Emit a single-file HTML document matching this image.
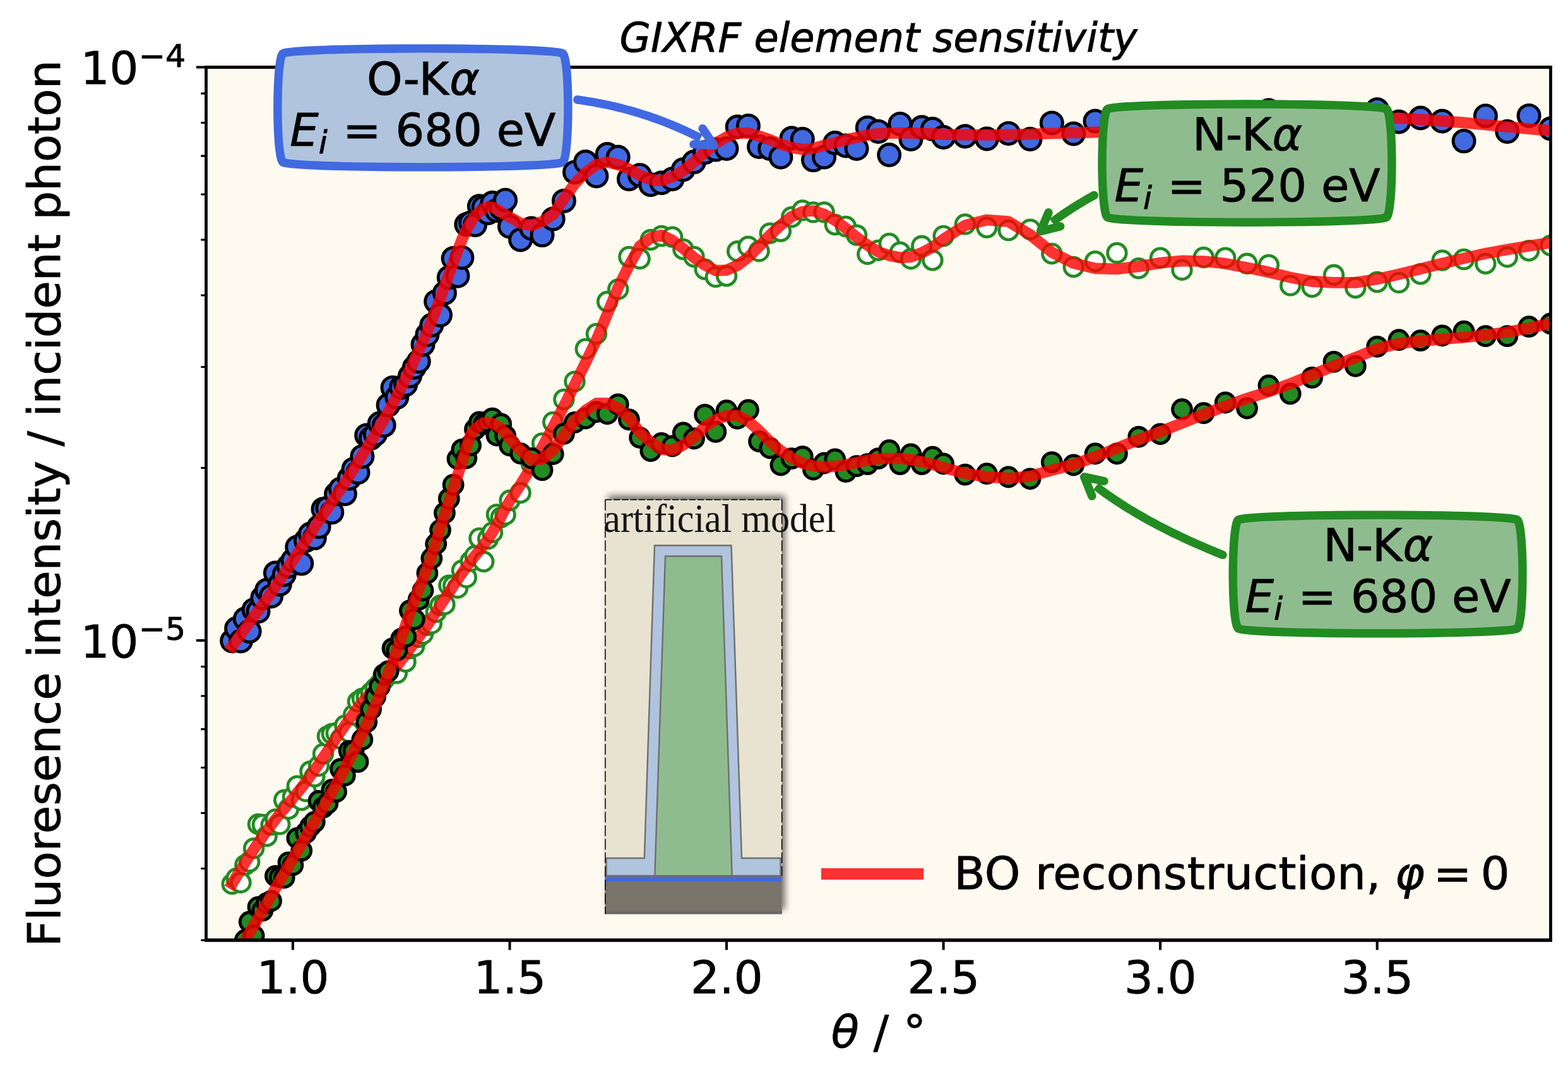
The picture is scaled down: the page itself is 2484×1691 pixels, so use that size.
<!DOCTYPE html>
<html lang="en"><head><meta charset="utf-8"><title>GIXRF element sensitivity</title>
<style>html,body{margin:0;padding:0;background:#fff;}body{width:2484px;height:1691px;overflow:hidden;}svg{display:block;}text{font-family:"DejaVu Sans","Liberation Sans",sans-serif;fill:#000;stroke:#000;stroke-width:0.9px;}.it{font-style:italic;}.serif{font-family:"Liberation Serif","DejaVu Serif",serif;stroke:none;}</style></head><body>
<svg xmlns="http://www.w3.org/2000/svg" width="2484" height="1691" viewBox="0 0 2484 1691">
<defs>
<clipPath id="axclip"><rect x="326.5" y="106.5" width="2130.0" height="1383.5"/></clipPath>
<filter id="shadow" x="-20%" y="-10%" width="150%" height="120%"><feGaussianBlur in="SourceAlpha" stdDeviation="5.5"/><feOffset dx="5" dy="-7" result="b"/><feComponentTransfer><feFuncA type="linear" slope="0.55"/></feComponentTransfer></filter>
<circle id="mA" r="17.05" fill="#4169e1" stroke="#000" stroke-width="4.9"/>
<circle id="mC" r="14.9" fill="#228b22" stroke="#000" stroke-width="5.0"/>
<circle id="mB" r="14.8" fill="#fff" stroke="#228b22" stroke-width="4.8"/>
</defs>
<rect x="0" y="0" width="2484" height="1691" fill="#fff"/>
<rect x="326.5" y="106.5" width="2130.0" height="1383.5" fill="#fffaf0"/>
<path d="M324.1,106.5 H2458.9" stroke="#000" stroke-width="4.8" fill="none"/>
<path d="M447.90,85.00 L447.90,85.00 L447.90,85.00 L447.91,84.99 L447.92,84.98 L447.96,84.94 L448.03,84.88 L448.16,84.79 L448.41,84.65 L448.83,84.45 L449.57,84.18 L450.81,83.83 L452.81,83.40 L455.91,82.89 L460.57,82.31 L467.26,81.65 L476.54,80.95 L488.89,80.22 L504.75,79.49 L524.37,78.80 L547.76,78.17 L574.68,77.64 L604.58,77.24 L636.65,76.99 L669.85,76.90 L703.05,76.99 L735.12,77.24 L765.02,77.64 L791.94,78.17 L815.33,78.80 L834.95,79.49 L850.81,80.22 L863.16,80.95 L872.44,81.65 L879.13,82.31 L883.79,82.89 L886.89,83.40 L888.89,83.83 L890.13,84.18 L890.87,84.45 L891.29,84.65 L891.54,84.79 L891.67,84.88 L891.74,84.94 L891.78,84.98 L891.79,84.99 L891.80,85.00 L891.80,85.00 L891.80,85.00 L891.80,85.00 L891.80,85.00 L891.81,85.01 L891.82,85.02 L891.86,85.06 L891.92,85.12 L892.01,85.23 L892.15,85.41 L892.35,85.69 L892.62,86.13 L892.97,86.79 L893.40,87.78 L893.91,89.21 L894.49,91.25 L895.15,94.07 L895.85,97.84 L896.58,102.74 L897.31,108.91 L898.00,116.43 L898.63,125.31 L899.16,135.43 L899.56,146.61 L899.81,158.55 L899.90,170.90 L899.81,183.25 L899.56,195.19 L899.16,206.37 L898.63,216.49 L898.00,225.37 L897.31,232.89 L896.58,239.06 L895.85,243.96 L895.15,247.73 L894.49,250.55 L893.91,252.59 L893.40,254.02 L892.97,255.01 L892.62,255.67 L892.35,256.11 L892.15,256.39 L892.01,256.57 L891.92,256.68 L891.86,256.74 L891.82,256.78 L891.81,256.79 L891.80,256.80 L891.80,256.80 L891.80,256.80 L891.80,256.80 L891.80,256.80 L891.79,256.81 L891.78,256.82 L891.74,256.86 L891.67,256.92 L891.54,257.01 L891.29,257.15 L890.87,257.35 L890.13,257.62 L888.89,257.97 L886.89,258.40 L883.79,258.91 L879.13,259.49 L872.44,260.15 L863.16,260.85 L850.81,261.58 L834.95,262.31 L815.33,263.00 L791.94,263.63 L765.02,264.16 L735.12,264.56 L703.05,264.81 L669.85,264.90 L636.65,264.81 L604.58,264.56 L574.68,264.16 L547.76,263.63 L524.37,263.00 L504.75,262.31 L488.89,261.58 L476.54,260.85 L467.26,260.15 L460.57,259.49 L455.91,258.91 L452.81,258.40 L450.81,257.97 L449.57,257.62 L448.83,257.35 L448.41,257.15 L448.16,257.01 L448.03,256.92 L447.96,256.86 L447.92,256.82 L447.91,256.81 L447.90,256.80 L447.90,256.80 L447.90,256.80 L447.90,256.80 L447.90,256.80 L447.89,256.79 L447.88,256.78 L447.84,256.74 L447.78,256.68 L447.69,256.57 L447.55,256.39 L447.35,256.11 L447.08,255.67 L446.73,255.01 L446.30,254.02 L445.79,252.59 L445.21,250.55 L444.55,247.73 L443.85,243.96 L443.12,239.06 L442.39,232.89 L441.70,225.37 L441.07,216.49 L440.54,206.37 L440.14,195.19 L439.89,183.25 L439.80,170.90 L439.89,158.55 L440.14,146.61 L440.54,135.43 L441.07,125.31 L441.70,116.43 L442.39,108.91 L443.12,102.74 L443.85,97.84 L444.55,94.07 L445.21,91.25 L445.79,89.21 L446.30,87.78 L446.73,86.79 L447.08,86.13 L447.35,85.69 L447.55,85.41 L447.69,85.23 L447.78,85.12 L447.84,85.06 L447.88,85.02 L447.89,85.01 L447.90,85.00 L447.90,85.00 Z" fill="#b0c4de" stroke="#4169e1" stroke-width="13.4" stroke-linejoin="round"/>
<text x="670.4" y="150.1" font-size="72.0" text-anchor="middle">O<tspan dx="-1">-</tspan><tspan dx="-1">K</tspan><tspan class="it" dx="1.3">α</tspan></text><text x="459.2" y="230.6" font-size="72.0"><tspan class="it">E</tspan><tspan class="it" font-size="50.4" dy="12">i</tspan><tspan dy="-12" dx="1.6"> = 680 eV</tspan></text>
<g clip-path="url(#axclip)">
<g><use href="#mA" x="367.7" y="1015.7"/><use href="#mA" x="374.6" y="996"/><use href="#mA" x="381.5" y="1016"/><use href="#mA" x="388.3" y="980.8"/><use href="#mA" x="395.2" y="1000.5"/><use href="#mA" x="402.1" y="966.4"/><use href="#mA" x="409" y="969"/><use href="#mA" x="415.8" y="947.4"/><use href="#mA" x="422.7" y="935.3"/><use href="#mA" x="429.6" y="944.9"/><use href="#mA" x="436.4" y="908.1"/><use href="#mA" x="443.3" y="926"/><use href="#mA" x="450.2" y="910.8"/><use href="#mA" x="457" y="897.4"/><use href="#mA" x="463.9" y="888"/><use href="#mA" x="470.8" y="867"/><use href="#mA" x="477.7" y="893.1"/><use href="#mA" x="484.5" y="856.8"/><use href="#mA" x="491.4" y="846.3"/><use href="#mA" x="498.3" y="852.6"/><use href="#mA" x="505.1" y="834.7"/><use href="#mA" x="512" y="806.9"/><use href="#mA" x="518.9" y="805.2"/><use href="#mA" x="525.8" y="811.9"/><use href="#mA" x="532.6" y="782.8"/><use href="#mA" x="539.5" y="774.9"/><use href="#mA" x="546.4" y="782.8"/><use href="#mA" x="553.2" y="758.2"/><use href="#mA" x="560.1" y="743.4"/><use href="#mA" x="567" y="748.7"/><use href="#mA" x="573.9" y="723.4"/><use href="#mA" x="580.7" y="689.9"/><use href="#mA" x="587.6" y="694.4"/><use href="#mA" x="594.5" y="688.2"/><use href="#mA" x="601.3" y="671"/><use href="#mA" x="608.2" y="674.1"/><use href="#mA" x="615.1" y="642"/><use href="#mA" x="622" y="614.4"/><use href="#mA" x="628.8" y="629.6"/><use href="#mA" x="635.7" y="613.9"/><use href="#mA" x="642.6" y="609.4"/><use href="#mA" x="649.4" y="596"/><use href="#mA" x="656.3" y="582.2"/><use href="#mA" x="663.2" y="572.7"/><use href="#mA" x="670" y="546"/><use href="#mA" x="676.9" y="530.4"/><use href="#mA" x="683.8" y="515.2"/><use href="#mA" x="690.7" y="477.9"/><use href="#mA" x="697.5" y="499.4"/><use href="#mA" x="704.4" y="464.4"/><use href="#mA" x="711.3" y="439.8"/><use href="#mA" x="718.1" y="409.5"/><use href="#mA" x="725" y="437.3"/><use href="#mA" x="731.9" y="408.2"/><use href="#mA" x="738.8" y="355.7"/><use href="#mA" x="745.6" y="353"/><use href="#mA" x="752.5" y="356.4"/><use href="#mA" x="759.4" y="326.7"/><use href="#mA" x="766.2" y="328.6"/><use href="#mA" x="773.1" y="337.4"/><use href="#mA" x="780" y="321.6"/><use href="#mA" x="786.9" y="333.6"/><use href="#mA" x="793.7" y="330"/><use href="#mA" x="800.6" y="317.2"/><use href="#mA" x="807.5" y="359"/><use href="#mA" x="824.6" y="380"/><use href="#mA" x="841.8" y="362"/><use href="#mA" x="859" y="372.6"/><use href="#mA" x="876.2" y="347"/><use href="#mA" x="893.4" y="318.4"/><use href="#mA" x="910.5" y="273"/><use href="#mA" x="927.7" y="256.6"/><use href="#mA" x="944.9" y="279"/><use href="#mA" x="962.1" y="244.6"/><use href="#mA" x="979.2" y="249"/><use href="#mA" x="996.4" y="283.7"/><use href="#mA" x="1013.6" y="277.7"/><use href="#mA" x="1030.8" y="292.8"/><use href="#mA" x="1048" y="289.8"/><use href="#mA" x="1065.1" y="283.7"/><use href="#mA" x="1082.3" y="268.7"/><use href="#mA" x="1099.5" y="256.6"/><use href="#mA" x="1116.7" y="241.6"/><use href="#mA" x="1133.8" y="237"/><use href="#mA" x="1151" y="235.5"/><use href="#mA" x="1168.2" y="201"/><use href="#mA" x="1185.4" y="199.4"/><use href="#mA" x="1202.5" y="232.5"/><use href="#mA" x="1219.7" y="235.5"/><use href="#mA" x="1236.9" y="249"/><use href="#mA" x="1254.1" y="219"/><use href="#mA" x="1271.3" y="220.5"/><use href="#mA" x="1288.4" y="253.6"/><use href="#mA" x="1305.6" y="249"/><use href="#mA" x="1322.8" y="226.5"/><use href="#mA" x="1340" y="231"/><use href="#mA" x="1357.1" y="235.5"/><use href="#mA" x="1374.3" y="202.4"/><use href="#mA" x="1391.5" y="208.4"/><use href="#mA" x="1408.7" y="245.5"/><use href="#mA" x="1425.9" y="196.4"/><use href="#mA" x="1443" y="220.5"/><use href="#mA" x="1460.2" y="201.8"/><use href="#mA" x="1477.4" y="204.5"/><use href="#mA" x="1494.6" y="217.5"/><use href="#mA" x="1528.9" y="216"/><use href="#mA" x="1563.3" y="219.9"/><use href="#mA" x="1597.6" y="211.4"/><use href="#mA" x="1632" y="220.5"/><use href="#mA" x="1666.3" y="194.9"/><use href="#mA" x="1700.7" y="212"/><use href="#mA" x="1735" y="192"/><use href="#mA" x="1769.4" y="205"/><use href="#mA" x="1803.8" y="210"/><use href="#mA" x="1838.1" y="200"/><use href="#mA" x="1872.5" y="205"/><use href="#mA" x="1906.8" y="200"/><use href="#mA" x="1941.2" y="205"/><use href="#mA" x="1975.5" y="200"/><use href="#mA" x="2009.9" y="175"/><use href="#mA" x="2044.2" y="200"/><use href="#mA" x="2078.6" y="200"/><use href="#mA" x="2113" y="200"/><use href="#mA" x="2147.3" y="200"/><use href="#mA" x="2181.7" y="173.7"/><use href="#mA" x="2216" y="193"/><use href="#mA" x="2250.4" y="187"/><use href="#mA" x="2284.7" y="192"/><use href="#mA" x="2319.1" y="223.6"/><use href="#mA" x="2353.4" y="183.7"/><use href="#mA" x="2387.8" y="208.4"/><use href="#mA" x="2422.1" y="183.4"/><use href="#mA" x="2456.5" y="204"/></g>
<path d="M367.7,1024.1 L374.6,1014.7 L381.5,1005.3 L388.3,995.9 L395.2,986.5 L402.1,977.1 L409,967.9 L415.8,958.6 L422.7,949.3 L429.6,939.6 L436.4,929.5 L443.3,919.1 L450.2,908.7 L457,898.3 L463.9,888 L470.8,877.7 L477.7,867.3 L484.5,856.8 L491.4,846.3 L498.3,835.8 L505.1,825.5 L512,815.3 L518.9,805.2 L525.8,795.2 L532.6,785 L539.5,774.9 L546.4,764.6 L553.2,754.1 L560.1,743.4 L567,732.5 L573.9,721.6 L580.7,710.6 L587.6,699.5 L594.5,688.2 L601.3,676.6 L608.2,664.8 L615.1,652.7 L622,640.2 L628.8,627.3 L635.7,613.9 L642.6,600 L649.4,585.7 L656.3,571 L663.2,556 L670,540.6 L676.9,524.7 L683.8,508.2 L690.7,491.2 L697.5,472.9 L704.4,453.6 L711.3,434.3 L718.1,415.7 L725,396.9 L731.9,379.4 L738.8,364.9 L745.6,352 L752.5,342.2 L759.4,335.7 L766.2,330.4 L773.1,327.5 L780,328.3 L786.9,331.7 L793.7,336.1 L800.6,340.3 L807.5,344 L824.6,353.9 L841.8,357.3 L859,351.2 L876.2,339.6 L893.4,314.8 L910.5,291.1 L927.7,273.3 L944.9,260.8 L962.1,256.8 L979.2,261 L996.4,267.8 L1013.6,277.9 L1030.8,284.3 L1048,286.4 L1065.1,280.2 L1082.3,270.5 L1099.5,256.6 L1116.7,241.4 L1133.8,227 L1151,217.1 L1168.2,211 L1185.4,210.8 L1202.5,215.7 L1219.7,221.4 L1236.9,228.6 L1254.1,233.7 L1271.3,236.8 L1288.4,235.3 L1305.6,230.4 L1322.8,226 L1340,221.6 L1357.1,217.8 L1374.3,214.1 L1391.5,211.7 L1408.7,211.1 L1425.9,210.9 L1443,210.8 L1460.2,211.2 L1477.4,212 L1494.6,212.8 L1528.9,213.6 L1563.3,213.9 L1597.6,213.5 L1632,212.7 L1666.3,211.4 L1700.7,210.4 L1735,209.5 L1769.4,207.7 L1803.8,205.8 L1838.1,203.8 L1872.5,201.7 L1906.8,199.6 L1941.2,197.5 L1975.5,195.4 L2009.9,193.4 L2044.2,191.4 L2078.6,189.7 L2113,188.7 L2147.3,188 L2181.7,187.4 L2216,187.4 L2250.4,189.3 L2284.7,191.7 L2319.1,194.3 L2353.4,197.6 L2387.8,201 L2422.1,204.1 L2456.5,207" fill="none" stroke="#ff0000" stroke-opacity="0.8" stroke-width="17.8" stroke-linecap="square" stroke-linejoin="round"/>
</g>
<path d="M1754.10,173.10 L1754.10,173.10 L1754.10,173.10 L1754.11,173.09 L1754.12,173.08 L1754.16,173.04 L1754.23,172.98 L1754.36,172.89 L1754.61,172.75 L1755.03,172.55 L1755.77,172.28 L1757.00,171.93 L1759.00,171.50 L1762.10,170.99 L1766.74,170.41 L1773.42,169.75 L1782.67,169.05 L1794.99,168.32 L1810.81,167.59 L1830.37,166.90 L1853.70,166.27 L1880.55,165.74 L1910.37,165.34 L1942.34,165.09 L1975.45,165.00 L2008.56,165.09 L2040.53,165.34 L2070.35,165.74 L2097.20,166.27 L2120.53,166.90 L2140.09,167.59 L2155.91,168.32 L2168.23,169.05 L2177.48,169.75 L2184.16,170.41 L2188.80,170.99 L2191.90,171.50 L2193.90,171.93 L2195.13,172.28 L2195.87,172.55 L2196.29,172.75 L2196.54,172.89 L2196.67,172.98 L2196.74,173.04 L2196.78,173.08 L2196.79,173.09 L2196.80,173.10 L2196.80,173.10 L2196.80,173.10 L2196.80,173.10 L2196.80,173.10 L2196.81,173.11 L2196.82,173.12 L2196.86,173.16 L2196.92,173.22 L2197.01,173.33 L2197.15,173.51 L2197.35,173.79 L2197.62,174.22 L2197.97,174.89 L2198.40,175.87 L2198.91,177.30 L2199.49,179.33 L2200.15,182.14 L2200.85,185.89 L2201.58,190.77 L2202.31,196.92 L2203.00,204.40 L2203.63,213.23 L2204.16,223.31 L2204.56,234.43 L2204.81,246.32 L2204.90,258.60 L2204.81,270.88 L2204.56,282.77 L2204.16,293.89 L2203.63,303.97 L2203.00,312.80 L2202.31,320.28 L2201.58,326.43 L2200.85,331.31 L2200.15,335.06 L2199.49,337.87 L2198.91,339.90 L2198.40,341.33 L2197.97,342.31 L2197.62,342.98 L2197.35,343.41 L2197.15,343.69 L2197.01,343.87 L2196.92,343.98 L2196.86,344.04 L2196.82,344.08 L2196.81,344.09 L2196.80,344.10 L2196.80,344.10 L2196.80,344.10 L2196.80,344.10 L2196.80,344.10 L2196.79,344.11 L2196.78,344.12 L2196.74,344.16 L2196.67,344.22 L2196.54,344.31 L2196.29,344.45 L2195.87,344.65 L2195.13,344.92 L2193.90,345.27 L2191.90,345.70 L2188.80,346.21 L2184.16,346.79 L2177.48,347.45 L2168.23,348.15 L2155.91,348.88 L2140.09,349.61 L2120.53,350.30 L2097.20,350.93 L2070.35,351.46 L2040.53,351.86 L2008.56,352.11 L1975.45,352.20 L1942.34,352.11 L1910.37,351.86 L1880.55,351.46 L1853.70,350.93 L1830.37,350.30 L1810.81,349.61 L1794.99,348.88 L1782.67,348.15 L1773.42,347.45 L1766.74,346.79 L1762.10,346.21 L1759.00,345.70 L1757.00,345.27 L1755.77,344.92 L1755.03,344.65 L1754.61,344.45 L1754.36,344.31 L1754.23,344.22 L1754.16,344.16 L1754.12,344.12 L1754.11,344.11 L1754.10,344.10 L1754.10,344.10 L1754.10,344.10 L1754.10,344.10 L1754.10,344.10 L1754.09,344.09 L1754.08,344.08 L1754.04,344.04 L1753.98,343.98 L1753.89,343.87 L1753.75,343.69 L1753.55,343.41 L1753.28,342.98 L1752.93,342.31 L1752.50,341.33 L1751.99,339.90 L1751.41,337.87 L1750.75,335.06 L1750.05,331.31 L1749.32,326.43 L1748.59,320.28 L1747.90,312.80 L1747.27,303.97 L1746.74,293.89 L1746.34,282.77 L1746.09,270.88 L1746.00,258.60 L1746.09,246.32 L1746.34,234.43 L1746.74,223.31 L1747.27,213.23 L1747.90,204.40 L1748.59,196.92 L1749.32,190.77 L1750.05,185.89 L1750.75,182.14 L1751.41,179.33 L1751.99,177.30 L1752.50,175.87 L1752.93,174.89 L1753.28,174.22 L1753.55,173.79 L1753.75,173.51 L1753.89,173.33 L1753.98,173.22 L1754.04,173.16 L1754.08,173.12 L1754.09,173.11 L1754.10,173.10 L1754.10,173.10 Z" fill="#8fbc8f" stroke="#228b22" stroke-width="13.4" stroke-linejoin="round"/>
<text x="1976" y="238.2" font-size="72.0" text-anchor="middle">N<tspan dx="-1">-</tspan><tspan dx="-1">K</tspan><tspan class="it" dx="1.3">α</tspan></text><text x="1765.4" y="318.7" font-size="72.0"><tspan class="it">E</tspan><tspan class="it" font-size="50.4" dy="12">i</tspan><tspan dy="-12" dx="1.6"> = 520 eV</tspan></text>
<g clip-path="url(#axclip)">
<g><use href="#mB" x="367.7" y="1400.9"/><use href="#mB" x="374.6" y="1392"/><use href="#mB" x="381.5" y="1398.7"/><use href="#mB" x="388.3" y="1370.9"/><use href="#mB" x="395.2" y="1365.8"/><use href="#mB" x="402.1" y="1344.4"/><use href="#mB" x="409" y="1306.2"/><use href="#mB" x="415.8" y="1307"/><use href="#mB" x="422.7" y="1325"/><use href="#mB" x="429.6" y="1307.3"/><use href="#mB" x="436.4" y="1298.5"/><use href="#mB" x="443.3" y="1306.4"/><use href="#mB" x="450.2" y="1268"/><use href="#mB" x="457" y="1282"/><use href="#mB" x="463.9" y="1263"/><use href="#mB" x="470.8" y="1245.7"/><use href="#mB" x="477.7" y="1268"/><use href="#mB" x="484.5" y="1254.2"/><use href="#mB" x="491.4" y="1222.4"/><use href="#mB" x="498.3" y="1230.8"/><use href="#mB" x="505.1" y="1213.8"/><use href="#mB" x="512" y="1194.6"/><use href="#mB" x="518.9" y="1166.7"/><use href="#mB" x="525.8" y="1163"/><use href="#mB" x="532.6" y="1161.7"/><use href="#mB" x="539.5" y="1170.8"/><use href="#mB" x="546.4" y="1149.7"/><use href="#mB" x="553.2" y="1160.7"/><use href="#mB" x="560.1" y="1132.9"/><use href="#mB" x="567" y="1112"/><use href="#mB" x="573.9" y="1107"/><use href="#mB" x="580.7" y="1105.2"/><use href="#mB" x="587.6" y="1097.9"/><use href="#mB" x="594.5" y="1090.8"/><use href="#mB" x="601.3" y="1084"/><use href="#mB" x="608.2" y="1077.1"/><use href="#mB" x="615.1" y="1070"/><use href="#mB" x="622" y="1062.7"/><use href="#mB" x="628.8" y="1066.8"/><use href="#mB" x="635.7" y="1046.5"/><use href="#mB" x="642.6" y="1048.8"/><use href="#mB" x="649.4" y="1027.9"/><use href="#mB" x="656.3" y="1024"/><use href="#mB" x="663.2" y="1009.8"/><use href="#mB" x="670" y="1004.7"/><use href="#mB" x="676.9" y="990.9"/><use href="#mB" x="683.8" y="988.2"/><use href="#mB" x="690.7" y="970"/><use href="#mB" x="697.5" y="959.5"/><use href="#mB" x="704.4" y="957.9"/><use href="#mB" x="711.3" y="927.6"/><use href="#mB" x="718.1" y="928.5"/><use href="#mB" x="725" y="931.7"/><use href="#mB" x="731.9" y="904"/><use href="#mB" x="738.8" y="915.2"/><use href="#mB" x="745.6" y="889.4"/><use href="#mB" x="752.5" y="880.8"/><use href="#mB" x="759.4" y="853"/><use href="#mB" x="766.2" y="890"/><use href="#mB" x="773.1" y="854"/><use href="#mB" x="780" y="843.7"/><use href="#mB" x="786.9" y="815.5"/><use href="#mB" x="793.7" y="820"/><use href="#mB" x="800.6" y="815.7"/><use href="#mB" x="807.5" y="793"/><use href="#mB" x="824.6" y="781"/><use href="#mB" x="841.8" y="735"/><use href="#mB" x="859" y="702.5"/><use href="#mB" x="876.2" y="669"/><use href="#mB" x="893.4" y="633"/><use href="#mB" x="910.5" y="604.6"/><use href="#mB" x="927.7" y="553"/><use href="#mB" x="944.9" y="529"/><use href="#mB" x="962.1" y="478"/><use href="#mB" x="979.2" y="458.4"/><use href="#mB" x="996.4" y="407"/><use href="#mB" x="1013.6" y="410"/><use href="#mB" x="1030.8" y="380"/><use href="#mB" x="1048" y="374"/><use href="#mB" x="1065.1" y="375.6"/><use href="#mB" x="1082.3" y="395"/><use href="#mB" x="1099.5" y="407"/><use href="#mB" x="1116.7" y="426.8"/><use href="#mB" x="1133.8" y="438.9"/><use href="#mB" x="1151" y="437.3"/><use href="#mB" x="1168.2" y="398.2"/><use href="#mB" x="1185.4" y="390.7"/><use href="#mB" x="1202.5" y="398.2"/><use href="#mB" x="1219.7" y="369.6"/><use href="#mB" x="1236.9" y="366.6"/><use href="#mB" x="1254.1" y="344"/><use href="#mB" x="1271.3" y="333.4"/><use href="#mB" x="1288.4" y="336.4"/><use href="#mB" x="1305.6" y="336.4"/><use href="#mB" x="1322.8" y="356"/><use href="#mB" x="1340" y="359"/><use href="#mB" x="1357.1" y="372.6"/><use href="#mB" x="1374.3" y="402.7"/><use href="#mB" x="1391.5" y="396.7"/><use href="#mB" x="1408.7" y="386"/><use href="#mB" x="1425.9" y="399.7"/><use href="#mB" x="1443" y="410.2"/><use href="#mB" x="1460.2" y="389.8"/><use href="#mB" x="1477.4" y="412.3"/><use href="#mB" x="1494.6" y="374"/><use href="#mB" x="1528.9" y="355.4"/><use href="#mB" x="1563.3" y="360.5"/><use href="#mB" x="1597.6" y="365"/><use href="#mB" x="1632" y="363.6"/><use href="#mB" x="1666.3" y="402"/><use href="#mB" x="1700.7" y="423"/><use href="#mB" x="1735" y="414.2"/><use href="#mB" x="1769.4" y="400.9"/><use href="#mB" x="1803.8" y="425.3"/><use href="#mB" x="1838.1" y="408.7"/><use href="#mB" x="1872.5" y="427.7"/><use href="#mB" x="1906.8" y="408"/><use href="#mB" x="1941.2" y="408.7"/><use href="#mB" x="1975.5" y="417.8"/><use href="#mB" x="2009.9" y="420"/><use href="#mB" x="2044.2" y="452.4"/><use href="#mB" x="2078.6" y="454.8"/><use href="#mB" x="2113" y="435.8"/><use href="#mB" x="2147.3" y="456"/><use href="#mB" x="2181.7" y="447"/><use href="#mB" x="2216" y="447.9"/><use href="#mB" x="2250.4" y="434.3"/><use href="#mB" x="2284.7" y="412.6"/><use href="#mB" x="2319.1" y="411"/><use href="#mB" x="2353.4" y="417.8"/><use href="#mB" x="2387.8" y="407.2"/><use href="#mB" x="2422.1" y="397.3"/><use href="#mB" x="2456.5" y="389"/></g>
<path d="M367.7,1400.5 L374.6,1389.2 L381.5,1378 L388.3,1367.1 L395.2,1356.5 L402.1,1346.1 L409,1335.9 L415.8,1326 L422.7,1316.5 L429.6,1307.3 L436.4,1298.5 L443.3,1290 L450.2,1281.7 L457,1273.4 L463.9,1265.1 L470.8,1256.7 L477.7,1248.1 L484.5,1239.3 L491.4,1230 L498.3,1220.4 L505.1,1210.5 L512,1200.4 L518.9,1190.1 L525.8,1179.9 L532.6,1169.6 L539.5,1159.6 L546.4,1149.7 L553.2,1140 L560.1,1130.4 L567,1121.3 L573.9,1112.9 L580.7,1105.2 L587.6,1097.9 L594.5,1090.8 L601.3,1084 L608.2,1077.1 L615.1,1070 L622,1062.7 L628.8,1054.9 L635.7,1046.5 L642.6,1037.3 L649.4,1027.9 L656.3,1018.7 L663.2,1009.8 L670,1000.6 L676.9,990.9 L683.8,980.6 L690.7,970 L697.5,959.5 L704.4,949.1 L711.3,938.8 L718.1,928.5 L725,918.2 L731.9,908.2 L738.8,898.5 L745.6,889.4 L752.5,880.8 L759.4,872.2 L766.2,863.4 L773.1,854 L780,843.7 L786.9,831.7 L793.7,818.8 L800.6,805.9 L807.5,793.8 L824.6,768 L841.8,740 L859,708.9 L876.2,676.6 L893.4,643.2 L910.5,609.4 L927.7,574.5 L944.9,538.7 L962.1,497.8 L979.2,455.6 L996.4,421 L1013.6,390.1 L1030.8,376.9 L1048,372.6 L1065.1,380.8 L1082.3,393.8 L1099.5,408.4 L1116.7,420.1 L1133.8,428.8 L1151,428.1 L1168.2,420.5 L1185.4,407.7 L1202.5,390.4 L1219.7,372.6 L1236.9,356.7 L1254.1,343.1 L1271.3,335.5 L1288.4,334 L1305.6,339.6 L1322.8,349 L1340,361.8 L1357.1,376 L1374.3,388.6 L1391.5,399.2 L1408.7,404.9 L1425.9,408.3 L1443,407.2 L1460.2,400.7 L1477.4,391.6 L1494.6,379.1 L1528.9,357.2 L1563.3,348.5 L1597.6,351.1 L1632,372 L1666.3,399.9 L1700.7,417.2 L1735,425.4 L1769.4,426.3 L1803.8,422.4 L1838.1,416.6 L1872.5,413.3 L1906.8,414.1 L1941.2,417.7 L1975.5,424.3 L2009.9,431.3 L2044.2,439.7 L2078.6,446 L2113,447.9 L2147.3,447.9 L2181.7,442.3 L2216,434.7 L2250.4,426.2 L2284.7,417.5 L2319.1,409.3 L2353.4,401.8 L2387.8,395.5 L2422.1,389.8 L2456.5,384.6" fill="none" stroke="#ff0000" stroke-opacity="0.8" stroke-width="17.8" stroke-linecap="square" stroke-linejoin="round"/>
</g>
<path d="M1961.30,824.20 L1961.30,824.20 L1961.30,824.20 L1961.31,824.19 L1961.32,824.18 L1961.36,824.14 L1961.43,824.08 L1961.56,823.99 L1961.81,823.85 L1962.23,823.65 L1962.97,823.38 L1964.20,823.03 L1966.20,822.60 L1969.30,822.09 L1973.94,821.51 L1980.61,820.85 L1989.86,820.15 L2002.18,819.42 L2017.99,818.69 L2037.55,818.00 L2060.88,817.37 L2087.72,816.84 L2117.53,816.44 L2149.50,816.19 L2182.60,816.10 L2215.70,816.19 L2247.67,816.44 L2277.48,816.84 L2304.32,817.37 L2327.65,818.00 L2347.21,818.69 L2363.02,819.42 L2375.34,820.15 L2384.59,820.85 L2391.26,821.51 L2395.90,822.09 L2399.00,822.60 L2401.00,823.03 L2402.23,823.38 L2402.97,823.65 L2403.39,823.85 L2403.64,823.99 L2403.77,824.08 L2403.84,824.14 L2403.88,824.18 L2403.89,824.19 L2403.90,824.20 L2403.90,824.20 L2403.90,824.20 L2403.90,824.20 L2403.90,824.20 L2403.91,824.21 L2403.92,824.22 L2403.96,824.26 L2404.02,824.32 L2404.11,824.43 L2404.25,824.61 L2404.45,824.89 L2404.72,825.33 L2405.07,825.99 L2405.50,826.97 L2406.01,828.41 L2406.59,830.44 L2407.25,833.25 L2407.95,837.02 L2408.68,841.92 L2409.41,848.08 L2410.10,855.58 L2410.73,864.44 L2411.26,874.55 L2411.66,885.71 L2411.91,897.63 L2412.00,909.95 L2411.91,922.27 L2411.66,934.19 L2411.26,945.35 L2410.73,955.46 L2410.10,964.32 L2409.41,971.82 L2408.68,977.98 L2407.95,982.88 L2407.25,986.65 L2406.59,989.46 L2406.01,991.49 L2405.50,992.93 L2405.07,993.91 L2404.72,994.57 L2404.45,995.01 L2404.25,995.29 L2404.11,995.47 L2404.02,995.58 L2403.96,995.64 L2403.92,995.68 L2403.91,995.69 L2403.90,995.70 L2403.90,995.70 L2403.90,995.70 L2403.90,995.70 L2403.90,995.70 L2403.89,995.71 L2403.88,995.72 L2403.84,995.76 L2403.77,995.82 L2403.64,995.91 L2403.39,996.05 L2402.97,996.25 L2402.23,996.52 L2401.00,996.87 L2399.00,997.30 L2395.90,997.81 L2391.26,998.39 L2384.59,999.05 L2375.34,999.75 L2363.02,1000.48 L2347.21,1001.21 L2327.65,1001.90 L2304.32,1002.53 L2277.48,1003.06 L2247.67,1003.46 L2215.70,1003.71 L2182.60,1003.80 L2149.50,1003.71 L2117.53,1003.46 L2087.72,1003.06 L2060.88,1002.53 L2037.55,1001.90 L2017.99,1001.21 L2002.18,1000.48 L1989.86,999.75 L1980.61,999.05 L1973.94,998.39 L1969.30,997.81 L1966.20,997.30 L1964.20,996.87 L1962.97,996.52 L1962.23,996.25 L1961.81,996.05 L1961.56,995.91 L1961.43,995.82 L1961.36,995.76 L1961.32,995.72 L1961.31,995.71 L1961.30,995.70 L1961.30,995.70 L1961.30,995.70 L1961.30,995.70 L1961.30,995.70 L1961.29,995.69 L1961.28,995.68 L1961.24,995.64 L1961.18,995.58 L1961.09,995.47 L1960.95,995.29 L1960.75,995.01 L1960.48,994.57 L1960.13,993.91 L1959.70,992.93 L1959.19,991.49 L1958.61,989.46 L1957.95,986.65 L1957.25,982.88 L1956.52,977.98 L1955.79,971.82 L1955.10,964.32 L1954.47,955.46 L1953.94,945.35 L1953.54,934.19 L1953.29,922.27 L1953.20,909.95 L1953.29,897.63 L1953.54,885.71 L1953.94,874.55 L1954.47,864.44 L1955.10,855.58 L1955.79,848.08 L1956.52,841.92 L1957.25,837.02 L1957.95,833.25 L1958.61,830.44 L1959.19,828.41 L1959.70,826.97 L1960.13,825.99 L1960.48,825.33 L1960.75,824.89 L1960.95,824.61 L1961.09,824.43 L1961.18,824.32 L1961.24,824.26 L1961.28,824.22 L1961.29,824.21 L1961.30,824.20 L1961.30,824.20 Z" fill="#8fbc8f" stroke="#228b22" stroke-width="13.4" stroke-linejoin="round"/>
<text x="2183.1" y="889.3" font-size="72.0" text-anchor="middle">N<tspan dx="-1">-</tspan><tspan dx="-1">K</tspan><tspan class="it" dx="1.3">α</tspan></text><text x="1972.6" y="969.8" font-size="72.0"><tspan class="it">E</tspan><tspan class="it" font-size="50.4" dy="12">i</tspan><tspan dy="-12" dx="1.6"> = 680 eV</tspan></text>
<g clip-path="url(#axclip)">
<g><use href="#mC" x="367.7" y="1525.5"/><use href="#mC" x="374.6" y="1513.8"/><use href="#mC" x="381.5" y="1502.1"/><use href="#mC" x="388.3" y="1490"/><use href="#mC" x="395.2" y="1461"/><use href="#mC" x="402.1" y="1483"/><use href="#mC" x="409" y="1437.6"/><use href="#mC" x="415.8" y="1443.2"/><use href="#mC" x="422.7" y="1431.4"/><use href="#mC" x="429.6" y="1427.8"/><use href="#mC" x="436.4" y="1388.3"/><use href="#mC" x="443.3" y="1390"/><use href="#mC" x="450.2" y="1391"/><use href="#mC" x="457" y="1366.9"/><use href="#mC" x="463.9" y="1370.9"/><use href="#mC" x="470.8" y="1328.3"/><use href="#mC" x="477.7" y="1348.1"/><use href="#mC" x="484.5" y="1320"/><use href="#mC" x="491.4" y="1310"/><use href="#mC" x="498.3" y="1302.6"/><use href="#mC" x="505.1" y="1269.4"/><use href="#mC" x="512" y="1279.6"/><use href="#mC" x="518.9" y="1273.2"/><use href="#mC" x="525.8" y="1251.7"/><use href="#mC" x="532.6" y="1254.8"/><use href="#mC" x="539.5" y="1218.6"/><use href="#mC" x="546.4" y="1228.9"/><use href="#mC" x="553.2" y="1190.1"/><use href="#mC" x="560.1" y="1190.4"/><use href="#mC" x="567" y="1207.4"/><use href="#mC" x="573.9" y="1172"/><use href="#mC" x="580.7" y="1144.2"/><use href="#mC" x="587.6" y="1124"/><use href="#mC" x="594.5" y="1104.5"/><use href="#mC" x="601.3" y="1088.3"/><use href="#mC" x="608.2" y="1069"/><use href="#mC" x="615.1" y="1064"/><use href="#mC" x="622" y="1027.6"/><use href="#mC" x="628.8" y="1030.7"/><use href="#mC" x="635.7" y="1012.5"/><use href="#mC" x="642.6" y="1008.9"/><use href="#mC" x="649.4" y="967.7"/><use href="#mC" x="656.3" y="981.3"/><use href="#mC" x="663.2" y="950.4"/><use href="#mC" x="670" y="935.8"/><use href="#mC" x="676.9" y="908.3"/><use href="#mC" x="683.8" y="885"/><use href="#mC" x="690.7" y="862"/><use href="#mC" x="697.5" y="840.1"/><use href="#mC" x="704.4" y="812.9"/><use href="#mC" x="711.3" y="790.4"/><use href="#mC" x="718.1" y="768.3"/><use href="#mC" x="725" y="727.2"/><use href="#mC" x="731.9" y="712.4"/><use href="#mC" x="738.8" y="726"/><use href="#mC" x="745.6" y="705.7"/><use href="#mC" x="752.5" y="680.4"/><use href="#mC" x="759.4" y="669"/><use href="#mC" x="766.2" y="672"/><use href="#mC" x="773.1" y="668"/><use href="#mC" x="780" y="663.1"/><use href="#mC" x="786.9" y="690"/><use href="#mC" x="793.7" y="671.9"/><use href="#mC" x="800.6" y="690.6"/><use href="#mC" x="807.5" y="706"/><use href="#mC" x="824.6" y="718.6"/><use href="#mC" x="841.8" y="726.3"/><use href="#mC" x="859" y="744.9"/><use href="#mC" x="876.2" y="719.5"/><use href="#mC" x="893.4" y="687.4"/><use href="#mC" x="910.5" y="669.4"/><use href="#mC" x="927.7" y="663"/><use href="#mC" x="944.9" y="652.8"/><use href="#mC" x="962.1" y="655.8"/><use href="#mC" x="979.2" y="640.8"/><use href="#mC" x="996.4" y="664.9"/><use href="#mC" x="1013.6" y="693.5"/><use href="#mC" x="1030.8" y="714.6"/><use href="#mC" x="1048" y="702.5"/><use href="#mC" x="1065.1" y="707"/><use href="#mC" x="1082.3" y="686"/><use href="#mC" x="1099.5" y="695"/><use href="#mC" x="1116.7" y="657.3"/><use href="#mC" x="1133.8" y="684.4"/><use href="#mC" x="1151" y="650.7"/><use href="#mC" x="1168.2" y="663.3"/><use href="#mC" x="1185.4" y="649.8"/><use href="#mC" x="1202.5" y="699.5"/><use href="#mC" x="1219.7" y="710"/><use href="#mC" x="1236.9" y="737"/><use href="#mC" x="1254.1" y="726.6"/><use href="#mC" x="1271.3" y="723.6"/><use href="#mC" x="1288.4" y="744"/><use href="#mC" x="1305.6" y="734"/><use href="#mC" x="1322.8" y="728"/><use href="#mC" x="1340" y="747.7"/><use href="#mC" x="1357.1" y="738.7"/><use href="#mC" x="1374.3" y="735.6"/><use href="#mC" x="1391.5" y="726.6"/><use href="#mC" x="1408.7" y="713.7"/><use href="#mC" x="1425.9" y="735.6"/><use href="#mC" x="1443" y="720"/><use href="#mC" x="1460.2" y="735.6"/><use href="#mC" x="1477.4" y="724.2"/><use href="#mC" x="1494.6" y="735"/><use href="#mC" x="1528.9" y="752.2"/><use href="#mC" x="1563.3" y="750.7"/><use href="#mC" x="1597.6" y="756"/><use href="#mC" x="1632" y="758.8"/><use href="#mC" x="1666.3" y="732.6"/><use href="#mC" x="1700.7" y="737"/><use href="#mC" x="1735" y="719"/><use href="#mC" x="1769.4" y="719"/><use href="#mC" x="1803.8" y="692.3"/><use href="#mC" x="1838.1" y="687.8"/><use href="#mC" x="1872.5" y="648.7"/><use href="#mC" x="1906.8" y="654.7"/><use href="#mC" x="1941.2" y="638"/><use href="#mC" x="1975.5" y="647"/><use href="#mC" x="2009.9" y="611"/><use href="#mC" x="2044.2" y="624"/><use href="#mC" x="2078.6" y="598.4"/><use href="#mC" x="2113" y="573.4"/><use href="#mC" x="2147.3" y="580.3"/><use href="#mC" x="2181.7" y="549.3"/><use href="#mC" x="2216" y="538.7"/><use href="#mC" x="2250.4" y="539.6"/><use href="#mC" x="2284.7" y="531.8"/><use href="#mC" x="2319.1" y="525.2"/><use href="#mC" x="2353.4" y="532.7"/><use href="#mC" x="2387.8" y="532.7"/><use href="#mC" x="2422.1" y="517.7"/><use href="#mC" x="2456.5" y="513"/></g>
<path d="M367.7,1525.5 L374.6,1513.8 L381.5,1502.1 L388.3,1490.3 L395.2,1478.6 L402.1,1466.8 L409,1455 L415.8,1443.2 L422.7,1431.4 L429.6,1419.6 L436.4,1407.8 L443.3,1396 L450.2,1384.3 L457,1372.5 L463.9,1360.7 L470.8,1348.9 L477.7,1337.2 L484.5,1325.6 L491.4,1314.1 L498.3,1302.6 L505.1,1291.2 L512,1279.6 L518.9,1267.7 L525.8,1255.6 L532.6,1243 L539.5,1230.2 L546.4,1217.2 L553.2,1203.9 L560.1,1190.4 L567,1176.6 L573.9,1162.5 L580.7,1148 L587.6,1133.1 L594.5,1117.8 L601.3,1101.8 L608.2,1085 L615.1,1067.4 L622,1049.5 L628.8,1030.7 L635.7,1011 L642.6,991 L649.4,971.1 L656.3,951.9 L663.2,934 L670,917.5 L676.9,900.2 L683.8,880.3 L690.7,858.8 L697.5,836.7 L704.4,815.3 L711.3,794.8 L718.1,774.3 L725,753.4 L731.9,732.1 L738.8,708.4 L745.6,689.3 L752.5,679.9 L759.4,674.4 L766.2,670.3 L773.1,669.2 L780,671.2 L786.9,674.9 L793.7,679.3 L800.6,686.1 L807.5,694.5 L824.6,713.8 L841.8,728.4 L859,727.7 L876.2,713.5 L893.4,689.9 L910.5,666.5 L927.7,650.2 L944.9,639.2 L962.1,639.1 L979.2,646.5 L996.4,662.2 L1013.6,685.6 L1030.8,700.5 L1048,711.9 L1065.1,713.8 L1082.3,705.3 L1099.5,693.3 L1116.7,675.9 L1133.8,665.3 L1151,658.7 L1168.2,658.4 L1185.4,667.3 L1202.5,682.4 L1219.7,700 L1236.9,714.3 L1254.1,725.6 L1271.3,734.2 L1288.4,738.3 L1305.6,740.2 L1322.8,739 L1340,736.5 L1357.1,732.9 L1374.3,729.6 L1391.5,726.8 L1408.7,726.6 L1425.9,726.6 L1443,728.4 L1460.2,731.8 L1477.4,736.1 L1494.6,741 L1528.9,750.4 L1563.3,755.6 L1597.6,758 L1632,754.8 L1666.3,745.1 L1700.7,736.2 L1735,724 L1769.4,710.2 L1803.8,696.9 L1838.1,684.1 L1872.5,670.5 L1906.8,656.8 L1941.2,643.6 L1975.5,631.4 L2009.9,620.6 L2044.2,608.2 L2078.6,594 L2113,580.1 L2147.3,566.6 L2181.7,552.8 L2216,544.4 L2250.4,540.7 L2284.7,537.5 L2319.1,534.7 L2353.4,531 L2387.8,526.3 L2422.1,520.1 L2456.5,512.5" fill="none" stroke="#ff0000" stroke-opacity="0.8" stroke-width="17.8" stroke-linecap="square" stroke-linejoin="round"/>
</g>
<g>
<rect x="958.5" y="792.0" width="280.29999999999995" height="656.5" fill="#000" filter="url(#shadow)"/>
<rect x="958.5" y="792.0" width="280.29999999999995" height="656.5" fill="#e8e2d0"/>
<rect x="958.5" y="1396.5" width="280.29999999999995" height="52.0" fill="#797469"/>
<rect x="958.5" y="1444.5" width="280.29999999999995" height="4" fill="#666666"/>
<rect x="958.5" y="1388" width="280.29999999999995" height="9" fill="#4169e1"/>
<rect x="958.5" y="1388" width="280.29999999999995" height="4" fill="#566bb0"/>
<path d="M960.5,1360 L1020.8,1360 L1037,864.5 L1158.5,864.5 L1175,1360 L1236.5,1360 L1236.5,1388 L960.5,1388 Z" fill="#b0c4de" stroke="#6e6e6e" stroke-width="2.4" stroke-linejoin="miter"/>
<path d="M1037.3,1388 L1054,881.5 L1143,881.5 L1159.7,1388 Z" fill="#8fbc8f" stroke="#6e6e6e" stroke-width="2.4" stroke-linejoin="miter"/>
<path d="M958.5,792.0 L1238.8,792.0" fill="none" stroke="#000" stroke-width="1.5" stroke-dasharray="10.5 2.8"/>
<path d="M958.9,792.0 L958.9,1448.5 M1238.6,792.0 L1238.6,1388" fill="none" stroke="#000" stroke-width="1.5" stroke-dasharray="17 4.5"/>
<text class="serif" x="956.3" y="843.4" font-size="59.95" style="fill:#151515" transform="translate(956.3 843.4) scale(1 1.04) translate(-956.3 -843.4)">artificial model</text>
</g>
<path d="M326.5,104.1 V1490.0 H2456.5 V104.1" fill="none" stroke="#000" stroke-width="4.8" stroke-linejoin="miter" stroke-linecap="butt"/>
<path d="M324.1,1490.0 H2458.9" stroke="#000" stroke-width="4.8" fill="none"/>
<path d="M463.9,1490.0 v15.6 M807.5,1490.0 v15.6 M1151,1490.0 v15.6 M1494.6,1490.0 v15.6 M1838.1,1490.0 v15.6 M2181.7,1490.0 v15.6 M326.5,106.5 h-15.6 M326.5,1015 h-15.6" stroke="#000" stroke-width="4.1" fill="none"/>
<path d="M326.5,1490 h-8.2 M326.5,1376.5 h-8.2 M326.5,1288.5 h-8.2 M326.5,1216.5 h-8.2 M326.5,1155.7 h-8.2 M326.5,1103 h-8.2 M326.5,1056.5 h-8.2 M326.5,741.5 h-8.2 M326.5,581.5 h-8.2 M326.5,468 h-8.2 M326.5,380 h-8.2 M326.5,308 h-8.2 M326.5,247.2 h-8.2 M326.5,194.5 h-8.2 M326.5,148.1 h-8.2" stroke="#000" stroke-width="3.2" fill="none"/>
<text x="464.1" y="1574.0" font-size="72.0" text-anchor="middle">1.0</text>
<text x="807.7" y="1574.0" font-size="72.0" text-anchor="middle">1.5</text>
<text x="1151.2" y="1574.0" font-size="72.0" text-anchor="middle">2.0</text>
<text x="1494.8" y="1574.0" font-size="72.0" text-anchor="middle">2.5</text>
<text x="1838.3" y="1574.0" font-size="72.0" text-anchor="middle">3.0</text>
<text x="2181.9" y="1574.0" font-size="72.0" text-anchor="middle">3.5</text>
<text x="127.8" y="133.3" font-size="72.0">10<tspan font-size="50.4" dy="-27.5" dx="0.3">−4</tspan></text>
<text x="127.8" y="1041.9" font-size="72.0">10<tspan font-size="50.4" dy="-27.5" dx="0.3">−5</tspan></text>
<text class="it" x="1391.6" y="81.5" font-size="63.7" text-anchor="middle">GIXRF element sensitivity</text>
<text x="0" y="0" font-size="72.0" text-anchor="middle" transform="translate(95.2 797.7) rotate(-90)">Fluoresence intensity / incident photon</text>
<text x="1316.8" y="1660.3" font-size="72.0"><tspan class="it">θ</tspan> / °</text>
<path d="M1300.9,1385 H1463" stroke="#ff0000" stroke-opacity="0.8" stroke-width="17.8" fill="none"/>
<text x="1511.3" y="1409.4" font-size="72.0" textLength="675.9" lengthAdjust="spacing">BO reconstruction,</text>
<text y="1409.4" font-size="72.0"><tspan class="it" x="2209.4">φ</tspan><tspan x="2270.9">=</tspan><tspan x="2345.8">0</tspan></text>
<path d="M914.7,158 L919.4,158.7 L924,159.3 L928.7,160.1 L933.3,160.8 L937.9,161.6 L942.5,162.4 L947.1,163.3 L951.7,164.2 L956.2,165.1 L960.8,166 L965.3,167 L969.8,168 L974.3,169.1 L978.8,170.1 L983.3,171.2 L987.8,172.4 L992.2,173.6 L996.6,174.8 L1001.1,176 L1005.5,177.3 L1009.9,178.6 L1014.2,179.9 L1018.6,181.3 L1022.9,182.7 L1027.3,184.1 L1031.6,185.6 L1035.9,187.1 L1040.2,188.6 L1044.5,190.2 L1048.7,191.8 L1053,193.4 L1057.2,195.1 L1061.4,196.8 L1065.6,198.5 L1069.8,200.2 L1074,202 L1078.2,203.9 L1082.3,205.7 L1086.5,207.6 L1090.6,209.5 L1094.7,211.5 L1098.8,213.5 L1102.8,215.5 L1106.9,217.5 L1110,219.1" fill="none" stroke="#4169e1" stroke-width="13.4" stroke-linecap="butt" stroke-linejoin="round"/><circle cx="914.7" cy="158" r="6.7" fill="#4169e1"/><path d="M1113.1,203.7 L1131,230.5 L1098.9,228.7" fill="none" stroke="#4169e1" stroke-width="13.4" stroke-linecap="round" stroke-linejoin="round"/>
<path d="M1733.2,309.5 L1731.3,310.5 L1729.4,311.6 L1727.6,312.6 L1725.7,313.7 L1723.9,314.7 L1722,315.8 L1720.2,316.9 L1718.3,317.9 L1716.5,319 L1714.7,320.1 L1712.9,321.1 L1711.1,322.2 L1709.3,323.3 L1707.5,324.4 L1705.7,325.5 L1704,326.6 L1702.2,327.7 L1700.5,328.8 L1698.7,329.9 L1697,331 L1695.2,332.2 L1693.5,333.3 L1691.8,334.4 L1690.1,335.5 L1688.4,336.7 L1686.7,337.8 L1685,339 L1683.3,340.1 L1681.7,341.3 L1680,342.4 L1678.4,343.6 L1676.7,344.7 L1675.1,345.9 L1673.4,347.1 L1671.8,348.3 L1670.2,349.4 L1668.6,350.6 L1667,351.8 L1666.6,352.1" fill="none" stroke="#228b22" stroke-width="13.4" stroke-linecap="butt" stroke-linejoin="round"/><circle cx="1733.2" cy="309.5" r="6.7" fill="#228b22"/><path d="M1661,336.8 L1648.4,366.4 L1679.7,358.7" fill="none" stroke="#228b22" stroke-width="13.4" stroke-linecap="round" stroke-linejoin="round"/>
<path d="M1937,879.4 L1931.5,877.2 L1926,875 L1920.6,872.7 L1915.2,870.5 L1909.9,868.2 L1904.6,865.9 L1899.4,863.7 L1894.2,861.4 L1889.1,859.1 L1884,856.8 L1878.9,854.4 L1873.9,852.1 L1869,849.8 L1864,847.4 L1859.2,845.1 L1854.4,842.7 L1849.6,840.3 L1844.9,837.9 L1840.2,835.5 L1835.5,833.1 L1830.9,830.7 L1826.4,828.2 L1821.9,825.8 L1817.4,823.3 L1813,820.9 L1808.7,818.4 L1804.3,815.9 L1800.1,813.4 L1795.8,810.9 L1791.7,808.4 L1787.5,805.9 L1783.4,803.3 L1779.4,800.8 L1775.4,798.2 L1771.5,795.7 L1767.6,793.1 L1763.7,790.5 L1759.9,787.9 L1756.1,785.3 L1752.4,782.7 L1748.7,780 L1745.1,777.4 L1741.5,774.7 L1738,772.1 L1736.2,770.7" fill="none" stroke="#228b22" stroke-width="13.4" stroke-linecap="butt" stroke-linejoin="round"/><circle cx="1937" cy="879.4" r="6.7" fill="#228b22"/><path d="M1749,762.5 L1717.7,755.9 L1729.8,786" fill="none" stroke="#228b22" stroke-width="13.4" stroke-linecap="round" stroke-linejoin="round"/>
</svg></body></html>
